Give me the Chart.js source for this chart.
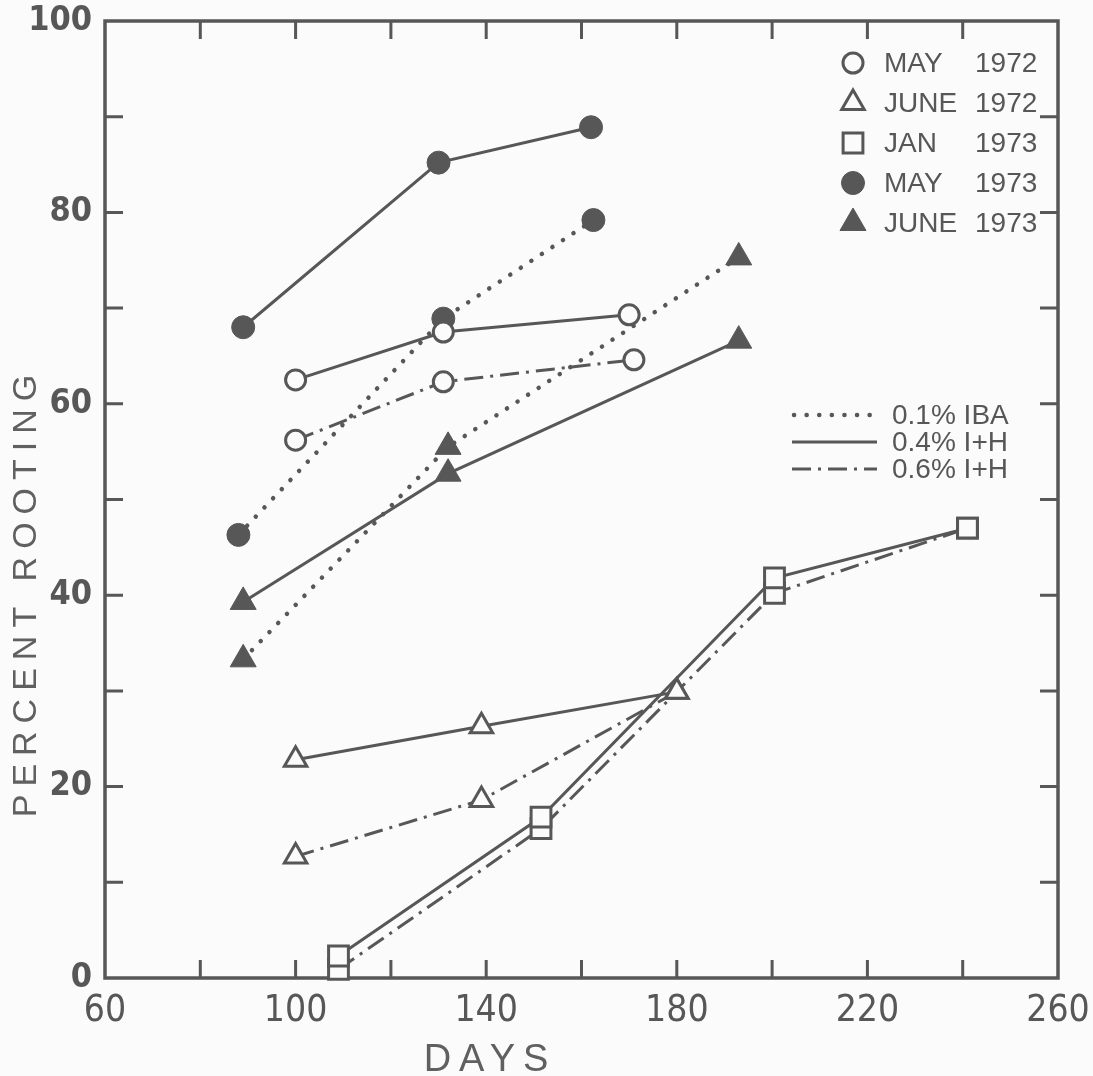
<!DOCTYPE html>
<html>
<head>
<meta charset="utf-8">
<script src="https://cdn.jsdelivr.net/npm/chart.js@4/dist/chart.umd.min.js"></script>
<style>
  html, body { margin: 0; padding: 0; background: #fbfbfb; }
  #wrap { width: 1093px; height: 1076px; }
</style>
</head>
<body>
<div id="wrap"><canvas id="rootChart"></canvas></div>
<script>
// Percent rooting vs days
const may72SolidDays = [100, 131, 170];
const may72SolidPct = [62.5, 67.5, 69.3];
const may72DashDays = [100, 131, 171];
const may72DashPct = [56.2, 62.3, 64.6];

const june72SolidDays = [100, 139, 180];
const june72SolidPct = [22.8, 26.3, 29.9];
const june72DashDays = [100, 139, 180];
const june72DashPct = [12.7, 18.6, 29.9];

const jan73SolidDays = [109, 151.5, 200.5, 241];
const jan73SolidPct = [2.3, 16.8, 41.8, 47.0];
const jan73DashDays = [109, 151.5, 200.5, 241];
const jan73DashPct = [0.9, 15.6, 40.2, 47.0];

const may73SolidDays = [89, 130, 162];
const may73SolidPct = [68.0, 85.2, 88.9];
const may73DotDays = [88, 131, 162.5];
const may73DotPct = [46.3, 68.9, 79.2];

const june73SolidDays = [89, 132, 193];
const june73SolidPct = [39.3, 52.7, 66.6];
const june73DotDays = [89, 132, 193];
const june73DotPct = [33.3, 55.5, 75.3];

const markerLegend = [
    ['circle', false, 'MAY', '1972'],
    ['triangle', false, 'JUNE', '1972'],
    ['rect', false, 'JAN', '1973'],
    ['circle', true, 'MAY', '1973'],
    ['triangle', true, 'JUNE', '1973']
];
const lineLegend = [
    ['dot', '0.1% IBA'],
    ['solid', '0.4% I+H'],
    ['dashdot', '0.6% I+H']
];

const ink = '#575757';
const paper = '#fbfbfb';
const dashes = { solid: [], dot: [0.1, 12.5], dashdot: [19, 7, 3, 7] };

// marker sizes per symbol
const markerSize = {
    circle: { open: 10, filled: 11.5 },
    triangle: { open: 13, filled: 15 },
    rect: { open: 14, filled: 14 }
};

function series(days, pct, marker, filled, lineStyle) {
    const r = markerSize[marker][filled ? 'filled' : 'open'];
    return {
        data: days.map((d, i) => ({ x: d, y: pct[i] })),
        showLine: true,
        borderColor: ink,
        borderWidth: lineStyle === 'dot' ? 4.5 : 3,
        borderDash: dashes[lineStyle],
        borderCapStyle: lineStyle === 'dot' ? 'round' : 'butt',
        pointStyle: marker,
        pointRadius: r,
        pointHoverRadius: r,
        pointBackgroundColor: filled ? ink : paper,
        pointBorderColor: ink,
        pointBorderWidth: filled ? 1 : 3,
        clip: false
    };
}

// own marker drawing for the legend, same shapes as Chart.js
function drawMarker(ctx, style, filled, cx, cy) {
    const r = markerSize[style][filled ? 'filled' : 'open'];
    ctx.beginPath();
    if (style === 'circle') {
        ctx.arc(cx, cy, r, 0, Math.PI * 2);
    } else if (style === 'triangle') {
        for (let k = 0; k < 3; k++) {
            const a = k * 2 * Math.PI / 3;
            const px = cx + Math.sin(a) * r, py = cy - Math.cos(a) * r;
            k ? ctx.lineTo(px, py) : ctx.moveTo(px, py);
        }
        ctx.closePath();
    } else {
        const s = Math.SQRT1_2 * r;
        ctx.rect(cx - s, cy - s, 2 * s, 2 * s);
    }
    ctx.fillStyle = filled ? ink : paper;
    ctx.fill();
    ctx.lineWidth = filled ? 1 : 3;
    ctx.strokeStyle = ink;
    ctx.stroke();
}

const frameAndLegend = {
    id: 'frameAndLegend',
    beforeDatasetsDraw(chart) {
        const { ctx, chartArea: a, scales: { x, y } } = chart;
        ctx.save();
        ctx.strokeStyle = ink;
        ctx.lineWidth = 3.5;
        ctx.strokeRect(a.left, a.top, a.right - a.left, a.bottom - a.top);
        ctx.lineWidth = 3;
        const len = 18;
        ctx.beginPath();
        x.ticks.forEach(t => {
            const px = x.getPixelForValue(t.value);
            if (px <= a.left + 2 || px >= a.right - 2) return;
            ctx.moveTo(px, a.bottom); ctx.lineTo(px, a.bottom - len);
            ctx.moveTo(px, a.top); ctx.lineTo(px, a.top + len);
        });
        y.ticks.forEach(t => {
            const py = y.getPixelForValue(t.value);
            if (py <= a.top + 2 || py >= a.bottom - 2) return;
            ctx.moveTo(a.left, py); ctx.lineTo(a.left + len, py);
            ctx.moveTo(a.right, py); ctx.lineTo(a.right - len, py);
        });
        ctx.stroke();
        ctx.restore();
    },
    afterDraw(chart) {
        const { ctx } = chart;
        ctx.save();

        // axis titles
        ctx.fillStyle = '#606060';
        ctx.font = '38px "Liberation Sans", Arial, sans-serif';
        ctx.letterSpacing = '8px';
        ctx.textAlign = 'center';
        ctx.textBaseline = 'alphabetic';
        ctx.fillText('DAYS', 490, 1071);
        ctx.font = '34px "Liberation Sans", Arial, sans-serif';
        ctx.translate(36, 592);
        ctx.rotate(-Math.PI / 2);
        ctx.fillText('PERCENT ROOTING', 0, 0);
        ctx.setTransform(1, 0, 0, 1, 0, 0);
        ctx.letterSpacing = '0px';

        // symbol legend
        ctx.font = '28px "Liberation Sans", Arial, sans-serif';
        ctx.textAlign = 'left';
        ctx.textBaseline = 'middle';
        markerLegend.forEach(([style, filled, month, year], i) => {
            const cy = 63 + i * 40;
            drawMarker(ctx, style, filled, 853, cy);
            ctx.fillStyle = ink;
            ctx.fillText(month, 884, cy + 1);
            ctx.fillText(year, 975, cy + 1);
        });

        // line style legend
        ctx.font = '28px "Liberation Sans", Arial, sans-serif';
        lineLegend.forEach(([style, label], i) => {
            const cy = 415 + i * 27;
            ctx.beginPath();
            ctx.strokeStyle = ink;
            ctx.lineWidth = style === 'dot' ? 4.5 : 3;
            ctx.lineCap = style === 'dot' ? 'round' : 'butt';
            ctx.setLineDash(dashes[style]);
            ctx.moveTo(style === 'dot' ? 794 : 792, cy);
            ctx.lineTo(877, cy);
            ctx.stroke();
            ctx.setLineDash([]);
            ctx.fillStyle = ink;
            ctx.fillText(label, 892, cy + 1);
        });
        ctx.restore();
    }
};

const ctx = document.getElementById('rootChart').getContext('2d');
new Chart(ctx, {
    type: 'scatter',
    data: {
        datasets: [
            series(may72SolidDays, may72SolidPct, 'circle', false, 'solid'),
            series(may72DashDays, may72DashPct, 'circle', false, 'dashdot'),
            series(june72SolidDays, june72SolidPct, 'triangle', false, 'solid'),
            series(june72DashDays, june72DashPct, 'triangle', false, 'dashdot'),
            series(jan73SolidDays, jan73SolidPct, 'rect', false, 'solid'),
            series(jan73DashDays, jan73DashPct, 'rect', false, 'dashdot'),
            series(may73SolidDays, may73SolidPct, 'circle', true, 'solid'),
            series(may73DotDays, may73DotPct, 'circle', true, 'dot'),
            series(june73SolidDays, june73SolidPct, 'triangle', true, 'solid'),
            series(june73DotDays, june73DotPct, 'triangle', true, 'dot')
        ]
    },
    options: {
        responsive: true,
        maintainAspectRatio: false,
        animation: false,
        layout: { padding: { top: 21, right: 35, left: 0, bottom: 0 } },
        plugins: {
            legend: { display: false },
            tooltip: { enabled: false }
        },
        scales: {
            x: {
                type: 'linear',
                min: 60,
                max: 260,
                grid: { display: false },
                border: { display: false },
                afterFit: s => {
                    s.height = 98;
                    s.paddingLeft = 0;
                    s.paddingRight = 0;
                },
                ticks: {
                    stepSize: 20,
                    autoSkip: false,
                    maxRotation: 0,
                    padding: 3,
                    color: ink,
                    font: { family: '"Liberation Sans Narrow", "DejaVu Sans Condensed", sans-serif', size: 37 },
                    callback: v => ((v - 60) % 40 === 0 ? String(v) : '')
                }
            },
            y: {
                type: 'linear',
                min: 0,
                max: 100,
                grid: { display: false },
                border: { display: false },
                afterFit: s => {
                    s.width = 105;
                    s.paddingTop = 0;
                    s.paddingBottom = 0;
                },
                ticks: {
                    stepSize: 10,
                    autoSkip: false,
                    padding: 5,
                    color: ink,
                    font: { family: '"Liberation Sans Narrow", "DejaVu Sans Condensed", sans-serif', size: 34, weight: 'bold' },
                    callback: v => (v % 20 === 0 ? String(v) : '')
                }
            }
        }
    },
    plugins: [frameAndLegend]
});
</script>
</body>
</html>
